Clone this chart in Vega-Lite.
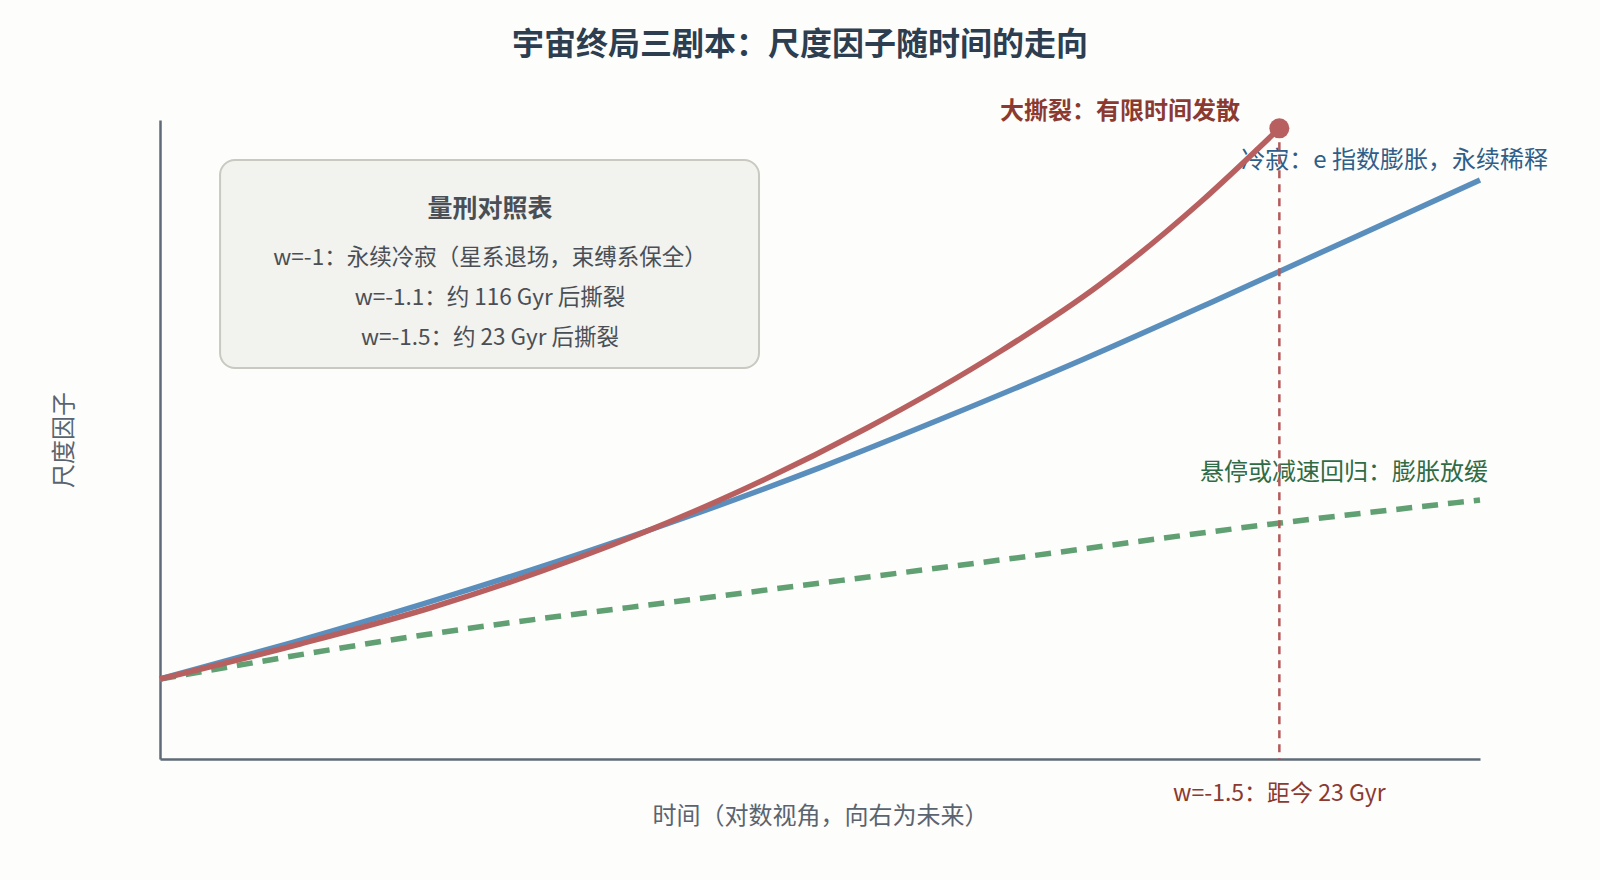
{
  "$schema": "https://vega.github.io/schema/vega-lite/v6.json",
  "description": "宇宙终局三剧本：尺度因子随时间的走向",
  "width": 1320,
  "height": 639,
  "autosize": {"type": "none"},
  "padding": {"left": 160, "top": 120, "right": 120, "bottom": 121},
  "background": "#fdfdfb",
  "title": {
    "text": "宇宙终局三剧本：尺度因子随时间的走向",
    "font": "Noto Sans CJK SC",
    "fontSize": 32,
    "fontWeight": "bold",
    "color": "#2c3e50",
    "anchor": "middle",
    "frame": "group",
    "dx": -20,
    "offset": 38
  },
  "config": {
    "view": {"stroke": null},
    "font": "Noto Sans CJK SC",
    "axis": {
      "grid": false,
      "ticks": false,
      "labels": false,
      "domainColor": "#5f6b78",
      "domainWidth": 2.5,
      "titleFont": "Noto Sans CJK SC",
      "titleFontSize": 24,
      "titleFontWeight": "normal",
      "titleColor": "#5a6470"
    }
  },
  "datasets": {
    "curves": [
      {"scenario": "cold", "t": 0, "a": 12.52},
      {"scenario": "cold", "t": 10, "a": 18.22},
      {"scenario": "cold", "t": 20, "a": 24.32},
      {"scenario": "cold", "t": 30, "a": 30.87},
      {"scenario": "cold", "t": 40, "a": 37.95},
      {"scenario": "cold", "t": 50, "a": 45.6},
      {"scenario": "cold", "t": 60, "a": 53.9},
      {"scenario": "cold", "t": 70, "a": 62.6},
      {"scenario": "cold", "t": 80, "a": 71.8},
      {"scenario": "cold", "t": 90, "a": 81.2},
      {"scenario": "cold", "t": 100, "a": 90.6},
      {"scenario": "rip", "t": 0, "a": 12.52},
      {"scenario": "rip", "t": 10.61, "a": 18.0},
      {"scenario": "rip", "t": 20.45, "a": 23.63},
      {"scenario": "rip", "t": 31.44, "a": 31.3},
      {"scenario": "rip", "t": 42.42, "a": 40.53},
      {"scenario": "rip", "t": 53.56, "a": 51.8},
      {"scenario": "rip", "t": 63.64, "a": 63.77},
      {"scenario": "rip", "t": 71.21, "a": 74.26},
      {"scenario": "rip", "t": 78.79, "a": 87.09},
      {"scenario": "rip", "t": 84.8, "a": 98.7},
      {"scenario": "crunch", "t": 0, "a": 12.52},
      {"scenario": "crunch", "t": 20.45, "a": 19.56},
      {"scenario": "crunch", "t": 42.42, "a": 25.51},
      {"scenario": "crunch", "t": 63.64, "a": 31.14},
      {"scenario": "crunch", "t": 84.85, "a": 36.93},
      {"scenario": "crunch", "t": 100, "a": 40.53}
    ],
    "ripEnd": [{"t": 84.8, "a": 98.7, "a0": 0}],
    "box": [{"t": 4.55, "t2": 45.38, "a": 93.74, "a2": 61.19}],
    "boxHead": [{"t": 25.0, "a": 86.05, "line": "量刑对照表"}],
    "boxLines": [
      {"t": 25.0, "a": 78.39, "line": "w=-1：永续冷寂（星系退场，束缚系保全）"},
      {"t": 25.0, "a": 72.13, "line": "w=-1.1：约 116 Gyr 后撕裂"},
      {"t": 25.0, "a": 65.87, "line": "w=-1.5：约 23 Gyr 后撕裂"}
    ],
    "ripLabel": [{"t": 81.82, "a": 101.23, "label": "大撕裂：有限时间发散"}],
    "coldLabel": [{"t": 105.15, "a": 93.57, "label": "冷寂：e 指数膨胀，永续稀释"}],
    "crunchLabel": [{"t": 100.6, "a": 44.74, "label": "悬停或减速回归：膨胀放缓"}],
    "ripTime": [{"t": 84.8, "a": -5.5, "label": "w=-1.5：距今 23 Gyr"}]
  },
  "layer": [
    {
      "data": {"name": "box"},
      "mark": {"type": "rect", "fill": "#f2f2ef", "stroke": "#c9c9c1", "strokeWidth": 2, "cornerRadius": 15},
      "encoding": {
        "x": {"field": "t", "type": "quantitative", "scale": {"domain": [0, 100], "nice": false, "zero": false}, "axis": {"title": "时间（对数视角，向右为未来）", "titlePadding": 45}},
        "x2": {"field": "t2"},
        "y": {"field": "a", "type": "quantitative", "scale": {"domain": [0, 100], "nice": false, "zero": false}, "axis": {"title": "尺度因子", "titlePadding": 84}},
        "y2": {"field": "a2"}
      }
    },
    {
      "data": {"name": "boxHead"},
      "mark": {"type": "text", "fontSize": 25, "fontWeight": "bold", "color": "#4a4f55", "align": "center", "baseline": "middle"},
      "encoding": {
        "x": {"field": "t", "type": "quantitative"},
        "y": {"field": "a", "type": "quantitative"},
        "text": {"field": "line"}
      }
    },
    {
      "data": {"name": "boxLines"},
      "mark": {"type": "text", "fontSize": 22.5, "color": "#4a4f55", "align": "center", "baseline": "middle"},
      "encoding": {
        "x": {"field": "t", "type": "quantitative"},
        "y": {"field": "a", "type": "quantitative"},
        "text": {"field": "line"}
      }
    },
    {
      "data": {"name": "ripLabel"},
      "mark": {"type": "text", "fontSize": 24, "fontWeight": "bold", "color": "#8b3a32", "align": "right", "baseline": "middle"},
      "encoding": {
        "x": {"field": "t", "type": "quantitative"},
        "y": {"field": "a", "type": "quantitative"},
        "text": {"field": "label"}
      }
    },
    {
      "data": {"name": "coldLabel"},
      "mark": {"type": "text", "fontSize": 24, "color": "#2d5f8a", "align": "right", "baseline": "middle"},
      "encoding": {
        "x": {"field": "t", "type": "quantitative"},
        "y": {"field": "a", "type": "quantitative"},
        "text": {"field": "label"}
      }
    },
    {
      "data": {"name": "crunchLabel"},
      "mark": {"type": "text", "fontSize": 24, "color": "#2f6b45", "align": "right", "baseline": "middle"},
      "encoding": {
        "x": {"field": "t", "type": "quantitative"},
        "y": {"field": "a", "type": "quantitative"},
        "text": {"field": "label"}
      }
    },
    {
      "data": {"name": "curves"},
      "transform": [{"filter": "datum.scenario === 'crunch'"}],
      "mark": {"type": "line", "color": "#60a072", "strokeWidth": 5.5, "strokeDash": [16, 10], "interpolate": "monotone"},
      "encoding": {
        "x": {"field": "t", "type": "quantitative"},
        "y": {"field": "a", "type": "quantitative"}
      }
    },
    {
      "data": {"name": "curves"},
      "transform": [{"filter": "datum.scenario === 'cold'"}],
      "mark": {"type": "line", "color": "#5a8fbd", "strokeWidth": 5.5, "interpolate": "monotone"},
      "encoding": {
        "x": {"field": "t", "type": "quantitative"},
        "y": {"field": "a", "type": "quantitative"}
      }
    },
    {
      "data": {"name": "curves"},
      "transform": [{"filter": "datum.scenario === 'rip'"}],
      "mark": {"type": "line", "color": "#b86060", "strokeWidth": 5.5, "interpolate": "monotone"},
      "encoding": {
        "x": {"field": "t", "type": "quantitative"},
        "y": {"field": "a", "type": "quantitative"}
      }
    },
    {
      "data": {"name": "ripEnd"},
      "mark": {"type": "rule", "color": "#b55a5a", "strokeWidth": 2.5, "strokeDash": [8, 6]},
      "encoding": {
        "x": {"field": "t", "type": "quantitative"},
        "y": {"field": "a", "type": "quantitative"},
        "y2": {"field": "a0"}
      }
    },
    {
      "data": {"name": "ripEnd"},
      "mark": {"type": "point", "filled": true, "shape": "circle", "size": 400, "color": "#b86060", "opacity": 1},
      "encoding": {
        "x": {"field": "t", "type": "quantitative"},
        "y": {"field": "a", "type": "quantitative"}
      }
    },
    {
      "data": {"name": "ripTime"},
      "mark": {"type": "text", "fontSize": 23, "color": "#8b3a32", "align": "center", "baseline": "middle"},
      "encoding": {
        "x": {"field": "t", "type": "quantitative"},
        "y": {"field": "a", "type": "quantitative"},
        "text": {"field": "label"}
      }
    }
  ]
}
